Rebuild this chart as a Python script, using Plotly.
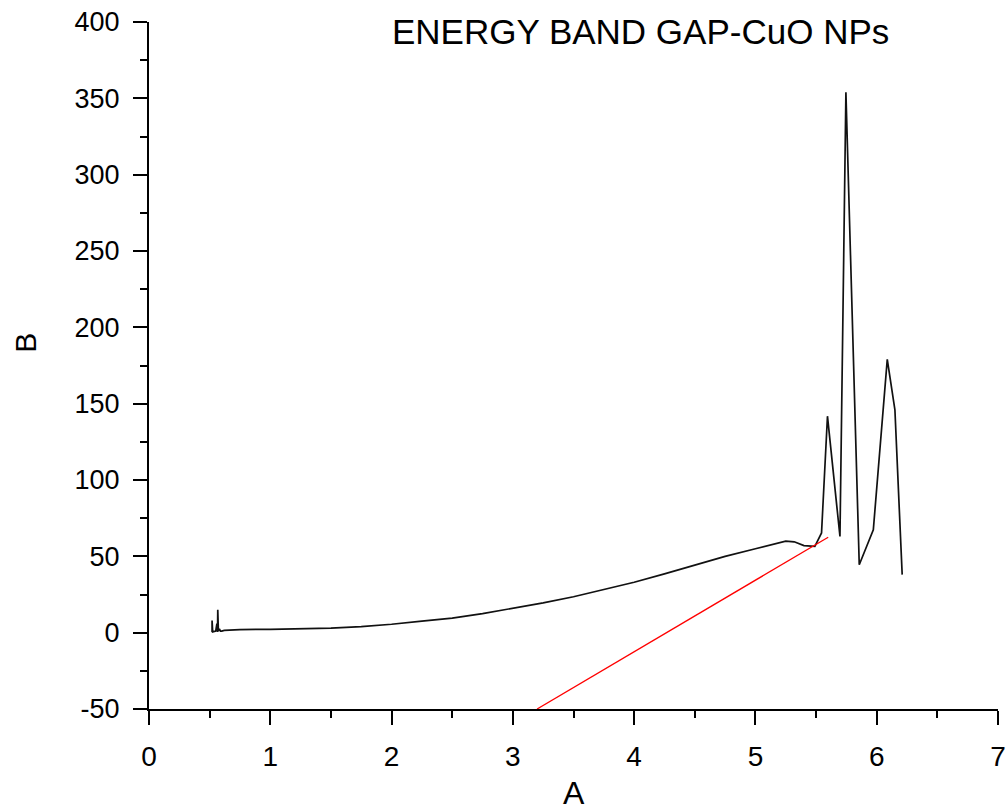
import plotly.graph_objects as go

# Absorption-derived curve (A vs B)
curve_x = [0.52, 0.52, 0.525, 0.55, 0.56, 0.565, 0.567, 0.572, 0.58, 0.59, 0.60, 0.62, 0.72,
           0.75, 1.0, 1.25, 1.5, 1.75, 2.0, 2.25, 2.5, 2.75, 3.0, 3.25, 3.5, 3.75, 4.0,
           4.25, 4.5, 4.75, 5.0, 5.15, 5.25, 5.32, 5.4, 5.49,
           5.545, 5.594, 5.697, 5.746, 5.856, 5.972, 6.087, 6.15, 6.21]
curve_y = [0.5, 8.0, 0.5, 1.0, 6.0, 0.5, 15.0, 1.0, 2.5, 1.0, 1.0, 1.5, 2.0,
           2.0, 2.2, 2.6, 3.0, 4.0, 5.5, 7.5, 9.5, 12.5, 16.0, 19.5, 23.5, 28.0, 33.0,
           38.5, 44.5, 50.0, 55.0, 58.0, 60.0, 59.5, 57.0, 56.5,
           65.3, 141.8, 63.0, 353.9, 44.5, 67.4, 179.0, 146.0, 38.0]

# Linear extrapolation (tangent) line
fit_x = [3.2, 5.6]
fit_y = [-50.0, 62.5]

x_ticks = [0, 1, 2, 3, 4, 5, 6, 7]
x_tick_labels = ["0", "1", "2", "3", "4", "5", "6", "7"]
y_ticks = [-50, 0, 50, 100, 150, 200, 250, 300, 350, 400]
y_tick_labels = ["-50", "0", "50", "100", "150", "200", "250", "300", "350", "400"]

fig = go.Figure()
fig.add_trace(go.Scatter(x=curve_x, y=curve_y, mode="lines",
                         line=dict(color="#111111", width=1.7), showlegend=False))
fig.add_trace(go.Scatter(x=fit_x, y=fit_y, mode="lines",
                         line=dict(color="#ff0000", width=1.3), showlegend=False))

font_family = "Liberation Sans, Arial, sans-serif"
axis_common = dict(
    showgrid=False, zeroline=False, showline=True, linecolor="black", linewidth=2,
    ticks="outside", ticklen=14, tickwidth=2, tickcolor="black", automargin=False,
)

fig.update_layout(
    width=1006, height=812,
    margin=dict(l=149, r=8, t=22, b=103, autoexpand=False),
    plot_bgcolor="white", paper_bgcolor="white",
    font=dict(family=font_family, color="black"),
    xaxis=dict(range=[0, 7], tickvals=x_ticks, ticktext=x_tick_labels,
               tickfont=dict(family=font_family, size=28, color="black"),
               minor=dict(ticks="outside", ticklen=7, tickwidth=2, tickcolor="black", dtick=0.5),
               ticklabelstandoff=7,
               **axis_common),
    yaxis=dict(range=[-50, 400], tickvals=y_ticks, ticktext=y_tick_labels,
               tickfont=dict(family=font_family, size=27, color="black"),
               minor=dict(ticks="outside", ticklen=7, tickwidth=2, tickcolor="black", dtick=25),
               ticklabelstandoff=8,
               **axis_common),
    annotations=[
        dict(text="ENERGY BAND GAP-CuO NPs", xref="paper", yref="paper",
             x=0.5795, y=0.986, xanchor="center", yanchor="middle",
             showarrow=False, font=dict(family=font_family, size=35, color="black")),
        dict(text="A", xref="paper", yref="paper", x=0.5006, y=-0.1225,
             xanchor="center", yanchor="middle", showarrow=False,
             font=dict(family=font_family, size=32, color="black")),
        dict(text="B", xref="paper", yref="paper", x=-0.1449, y=0.533, textangle=-90,
             xanchor="center", yanchor="middle", showarrow=False,
             font=dict(family=font_family, size=30, color="black")),
    ],
)

fig.write_html("out.html", config={"displayModeBar": False},
               post_script="document.body.style.margin='0';document.body.style.overflow='hidden';")
